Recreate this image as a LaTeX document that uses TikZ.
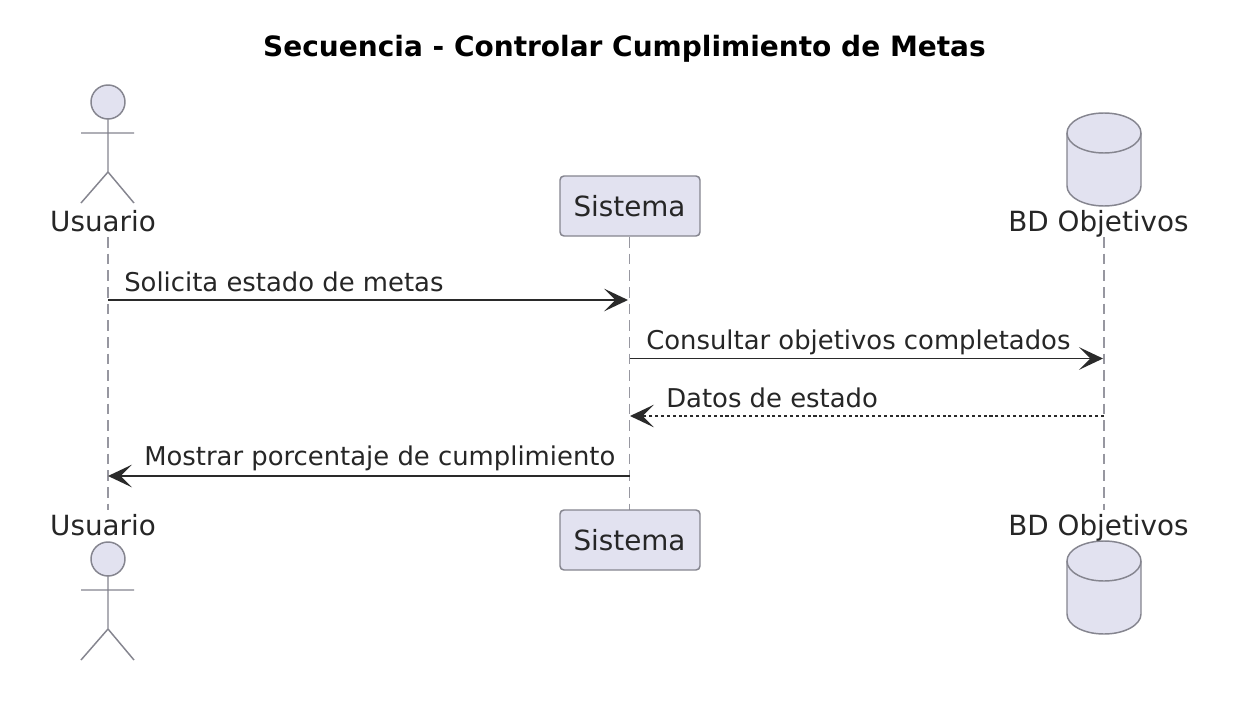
\documentclass[tikz,border=0pt]{standalone}
\usepackage{fontspec}
\setmainfont{DejaVu Sans}
\usetikzlibrary{arrows.meta}
\definecolor{partfill}{HTML}{E2E2F0}
\definecolor{partline}{HTML}{85858F}
\definecolor{msgline}{HTML}{2A2A2A}
\begin{document}
\begin{tikzpicture}[x=0.75pt,y=-0.75pt]
  \tikzstyle{part}=[fill=partfill,draw=partline,line width=1.1pt]
  \tikzstyle{stick}=[draw=partline,line width=1.1pt]
  \tikzstyle{lifeline}=[draw=partline!85,line width=1.1pt,dash pattern=on 8pt off 4.5pt]
  \tikzstyle{msg}=[draw=msgline,line width=1.4pt,-{Stealth[length=18pt,width=17pt,inset=8.5pt]}]
  \tikzstyle{reply}=[msg,dash pattern=on 2.3pt off 2.1pt]
  \tikzstyle{partlabel}=[font=\fontsize{20.85}{24}\selectfont,text=black!85,inner sep=0pt]
  \tikzstyle{msglabel}=[font=\fontsize{19.4}{23}\selectfont,text=black!85,inner sep=0pt,anchor=base west]
  \useasboundingbox (0,0) rectangle (1239,717);
  \fill[white] (0,0) rectangle (1239,717);
  \node[font=\bfseries\fontsize{21}{24}\selectfont,inner sep=0pt,anchor=base] (title) at (624.5,57) {Secuencia - Controlar Cumplimiento de Metas};
  \coordinate (usuarioTop) at (108,237);
  \coordinate (usuarioEnd) at (108,510);
  \coordinate (sistemaTop) at (629.5,237);
  \coordinate (sistemaEnd) at (629.5,510);
  \coordinate (objetivosTop) at (1104,237);
  \coordinate (objetivosEnd) at (1104,510);
  \draw[lifeline] (usuarioTop) -- (usuarioEnd);
  \draw[lifeline] (sistemaTop) -- (sistemaEnd);
  \draw[lifeline] (objetivosTop) -- (objetivosEnd);
  \foreach \off in {0,457} {
    \draw[part] (108,102+\off) circle (17);
    \draw[stick] (108,119+\off) -- (108,172+\off) (81,133+\off) -- (134,133+\off)
      (81,203+\off) -- (108,172+\off) -- (134,203+\off);
  }
  \foreach \off in {0,428} {
    \draw[part] (1067,133+\off) -- (1067,186+\off) arc[start angle=180,end angle=0,x radius=37,y radius=20]
      -- (1141,133+\off) arc[start angle=0,end angle=-180,x radius=37,y radius=20] -- cycle;
    \draw[stick] (1067,133+\off) arc[start angle=180,end angle=0,x radius=37,y radius=20];
  }
  \node[part,rounded corners=3pt,minimum width=105pt,minimum height=45pt,inner sep=0pt] (sistema) at (630,206) {};
  \node[part,rounded corners=3pt,minimum width=105pt,minimum height=45pt,inner sep=0pt] (sistemaB) at (630,540) {};
  \node[partlabel,anchor=base] (sistemaLabel) at (629.5,216) {Sistema};
  \node[partlabel,anchor=base] (sistemaLabelB) at (629.5,550) {Sistema};
  \node[partlabel,anchor=base] (usuario) at (103,231) {Usuario};
  \node[partlabel,anchor=base] (usuarioB) at (103,535) {Usuario};
  \node[partlabel,anchor=base] (objetivos) at (1098.5,231) {BD Objetivos};
  \node[partlabel,anchor=base] (objetivosB) at (1098.5,535) {BD Objetivos};
  \coordinate (u1) at (108,300);
  \coordinate (s1) at (628,300);
  \coordinate (s2) at (629.5,358.5);
  \coordinate (o2) at (1103,358.5);
  \coordinate (o3) at (1104,416);
  \coordinate (s3) at (630,416);
  \coordinate (s4) at (629.5,476);
  \coordinate (u4) at (108,476);
  \draw[msg] (u1) -- (s1);
  \draw[msg] (s2) -- (o2);
  \draw[reply] (o3) -- (s3);
  \draw[msg] (s4) -- (u4);
  \node[msglabel] (solicita) at (124,291) {Solicita estado de metas};
  \node[msglabel] (consultar) at (646,349) {Consultar objetivos completados};
  \node[msglabel] (datos) at (666,407) {Datos de estado};
  \node[msglabel] (mostrar) at (144,465) {Mostrar porcentaje de cumplimiento};
\end{tikzpicture}
\end{document}
